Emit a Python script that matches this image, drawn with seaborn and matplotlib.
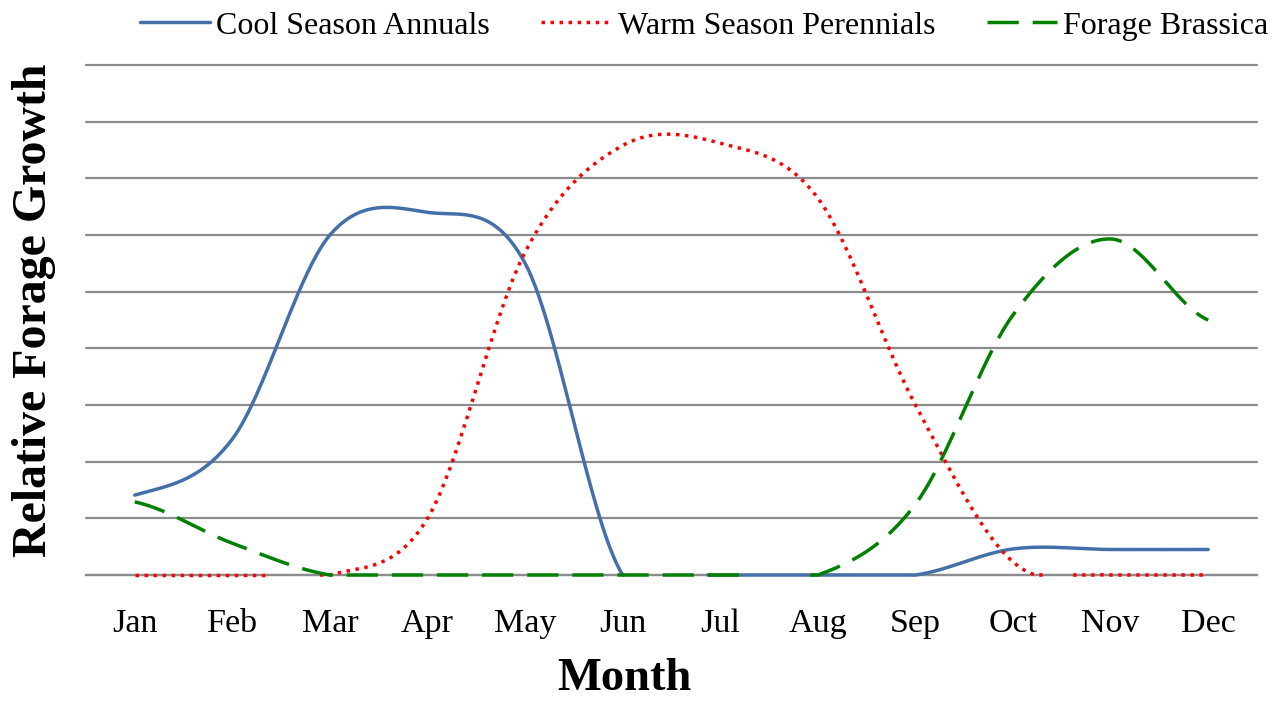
import numpy as np
import pandas as pd
import seaborn as sns
import matplotlib
matplotlib.use('Agg')
import matplotlib.pyplot as plt

# data (units = gridline steps)
months = ['Jan', 'Feb', 'Mar', 'Apr', 'May', 'Jun', 'Jul', 'Aug', 'Sep', 'Oct', 'Nov', 'Dec']
cool_season = [1.41, 2.4, 6.0, 6.4, 5.5, 0, 0, 0, 0, 0.46, 0.45, 0.45]
warm_season = [0, 0, 0, 1.0, 5.7, 7.58, 7.62, 6.65, 3.0, 0.23, 0, 0]
brassica = [1.29, 0.56, 0, 0, 0, 0, 0, 0, 1.25, 4.59, 5.93, 4.5]

series = {
    'Cool Season Annuals': dict(vals=cool_season, color='#4370A8', ls='-'),
    'Warm Season Perennials': dict(vals=warm_season, color='#FF0000', ls=(0, (1, 1.6))),
    'Forage Brassica': dict(vals=brassica, color='#008000', ls=(0, (9, 4))),
}


# excel-like smoothed line (catmull-rom through the points)
def smooth(y, n=40):
    y = np.asarray(y, dtype=float)
    x = np.arange(len(y))
    p = np.concatenate([[y[0]], y, [y[-1]]])
    xs, ys = [], []
    for i in range(len(y) - 1):
        p0, p1, p2, p3 = p[i], p[i + 1], p[i + 2], p[i + 3]
        m1 = (p2 - p0) / 2
        m2 = (p3 - p1) / 2
        t = np.linspace(0, 1, n)
        h00 = 2 * t**3 - 3 * t**2 + 1
        h10 = t**3 - 2 * t**2 + t
        h01 = -2 * t**3 + 3 * t**2
        h11 = t**3 - t**2
        xs.append(x[i] + t)
        ys.append(h00 * p1 + h10 * m1 + h01 * p2 + h11 * m2)
    xs, ys = np.concatenate(xs), np.concatenate(ys)
    # parts under the axis are cut off, like excel does -> split into segments
    below = ys < -0.045
    seg = np.cumsum(below)
    df = pd.DataFrame({'x': xs, 'y': np.clip(ys, 0, None), 'seg': seg})
    return df[~below]


sns.set_style('white')
plt.rcParams['font.family'] = ['Liberation Serif', 'DejaVu Serif']
plt.rcParams['text.color'] = 'black'
plt.rcParams['axes.labelcolor'] = 'black'
plt.rcParams['xtick.color'] = 'black'

fig = plt.figure(figsize=(12.85, 7.01), dpi=100)
ax = fig.add_axes([86 / 1285, 1 - 575 / 701, (1257 - 86) / 1285, (575 - 65) / 701])

for name, s in series.items():
    df = smooth(s['vals'])
    sns.lineplot(data=df, x='x', y='y', units='seg', estimator=None, ax=ax,
                 color=s['color'], linestyle=s['ls'], linewidth=2.5, label=name,
                 sort=False, zorder=3, clip_on=False)

ax.set_xlim(-0.5, len(months) - 0.5)
ax.set_ylim(0, 9)
ax.set_yticks(np.arange(0, 10))
ax.set_yticklabels([])
ax.tick_params(axis='y', length=0)
ax.yaxis.grid(True, color='#8c8c8c', linewidth=1.6)
for gl in ax.get_ygridlines():
    gl.set_clip_on(False)
ax.xaxis.grid(False)
for sp in ['left', 'top', 'right']:
    ax.spines[sp].set_visible(False)
ax.spines['bottom'].set_color('#8c8c8c')
ax.spines['bottom'].set_linewidth(1.6)

ax.set_xticks(np.arange(-0.5, len(months)), minor=False)
ax.set_xticklabels([])
ax.tick_params(axis='x', which='major', direction='out', length=8, width=1.6, color='#8c8c8c')
ax.set_xticks(np.arange(len(months)), minor=True)
ax.set_xticklabels(months, minor=True, fontsize=24.5)
ax.tick_params(axis='x', which='minor', length=0, pad=24)

ax.set_xlabel('Month', fontsize=33.5, fontweight='bold')
ax.xaxis.set_label_coords(0.46, -0.163)
ax.set_ylabel('Relative Forage Growth', fontsize=34.5, fontweight='bold')
ax.yaxis.set_label_coords(-0.026, 0.52)

# one legend entry per series
handles, labels = ax.get_legend_handles_labels()
seen = {}
for h, l in zip(handles, labels):
    if l not in seen:
        seen[l] = h
ax.legend_.remove()
fig.legend(list(seen.values()), list(seen.keys()), loc='upper center',
           bbox_to_anchor=(0.548, 1.025), ncol=3, frameon=False, fontsize=23,
           handlelength=2.2, handletextpad=0.2, columnspacing=1.6)

fig.savefig('out.png', dpi=100)
